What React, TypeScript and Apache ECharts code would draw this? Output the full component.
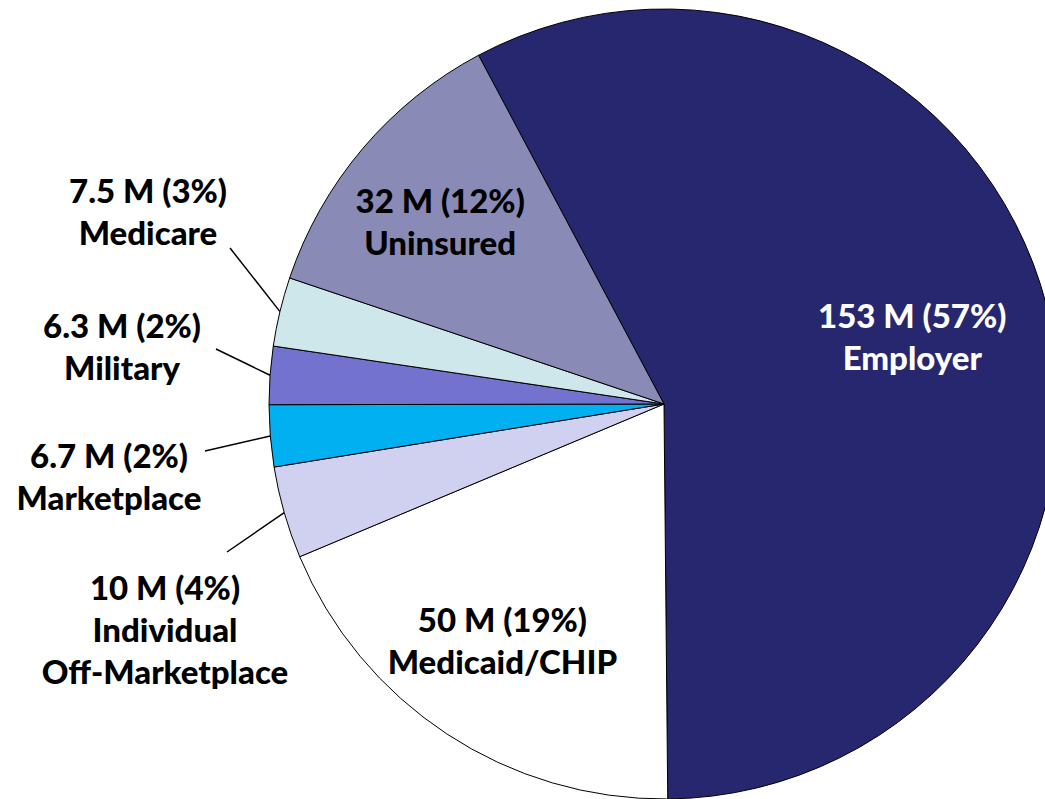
import React, { useEffect, useRef } from "react";
import * as echarts from "echarts";

const categories = [
  "Employer",
  "Medicaid/CHIP",
  "Individual\nOff-Marketplace",
  "Marketplace",
  "Military",
  "Medicare",
  "Uninsured",
];
const valuesM = [153, 50, 10, 6.7, 6.3, 7.5, 32];
const valueLabels = ["153 M", "50 M", "10 M", "6.7 M", "6.3 M", "7.5 M", "32 M"];
const percents = [57, 19, 4, 2, 2, 3, 12];
const colors = ["#27276F", "#FFFFFF", "#D0D0F0", "#00B0F0", "#7373CF", "#CDE7EA", "#8A8AB6"];
const insideIdx = [0, 1, 6];
const insideColors: Record<number, string> = { 0: "#FFFFFF", 1: "#000000", 6: "#000000" };
const insideOffsets: Record<number, [number, number]> = { 0: [-26, 2], 1: [-6, 0], 6: [-8, 0] };

// layout of the outside labels: text block centres and leader line end points
const outsidePos: Record<number, [number, number]> = {
  5: [148, 211],
  4: [122, 346],
  3: [109, 476],
  2: [165, 629],
};
const lineEnds: Record<number, [number, number]> = {
  5: [230, 248],
  4: [216, 349],
  3: [205, 451],
  2: [227, 552],
};

const CENTER: [number, number] = [664, 404];
const RADIUS = 395;
const FONT = "Lato, 'Open Sans', sans-serif";
const FS = 33;

const fmt = (i: number) => `${valueLabels[i]} (${percents[i]}%)\n${categories[i]}`;

export default function App() {
  const ref = useRef<HTMLDivElement>(null);
  useEffect(() => {
    document.body.style.margin = "0";
    const chart = echarts.init(ref.current!, null, { renderer: "svg" });
    const baseData = categories.map((c, i) => ({
      name: c,
      value: valuesM[i],
      itemStyle: { color: colors[i] },
      label: outsidePos[i]
        ? { show: true, formatter: () => fmt(i) }
        : { show: false },
      labelLine: { show: !!outsidePos[i] },
    }));
    const overlayData = categories.map((c, i) => ({
      name: c,
      value: valuesM[i],
      label: insideIdx.includes(i)
        ? { show: true, color: insideColors[i], offset: insideOffsets[i], formatter: () => fmt(i) }
        : { show: false },
    }));
    chart.setOption({
      animation: false,
      backgroundColor: "#FFFFFF",
      series: [
        {
          type: "pie",
          center: CENTER,
          radius: [0, RADIUS],
          startAngle: 118,
          clockwise: true,
          avoidLabelOverlap: false,
          itemStyle: { borderColor: "#000000", borderWidth: 1 },
          emphasis: { disabled: true },
          label: {
            position: "outside",
            fontFamily: FONT,
            fontWeight: 900,
            fontSize: FS,
            lineHeight: 42,
            color: "#000000",
            align: "center",
          },
          labelLine: {
            show: true,
            length: 20,
            length2: 0,
            lineStyle: { color: "#000000", width: 1.5 },
          },
          labelLayout: (params: any) => {
            const i = params.dataIndex;
            const p = outsidePos[i];
            if (!p) return {};
            const res: any = { x: p[0], y: p[1], align: "center", verticalAlign: "middle" };
            const pts = params.labelLinePoints;
            const e = lineEnds[i];
            if (pts && pts[0] && e) {
              res.labelLinePoints = [pts[0], e, e];
            }
            return res;
          },
          data: baseData,
        },
        {
          type: "pie",
          center: CENTER,
          radius: [0, 560],
          startAngle: 118,
          clockwise: true,
          silent: true,
          avoidLabelOverlap: false,
          itemStyle: { color: "rgba(0,0,0,0)", borderWidth: 0 },
          emphasis: { disabled: true },
          label: {
            position: "inside",
            fontFamily: FONT,
            fontWeight: 900,
            fontSize: FS,
            lineHeight: 42,
            align: "center",
          },
          labelLine: { show: false },
          data: overlayData,
        },
      ],
    });
    return () => chart.dispose();
  }, []);
  return <div ref={ref} style={{ width: 1045, height: 799 }} />;
}
